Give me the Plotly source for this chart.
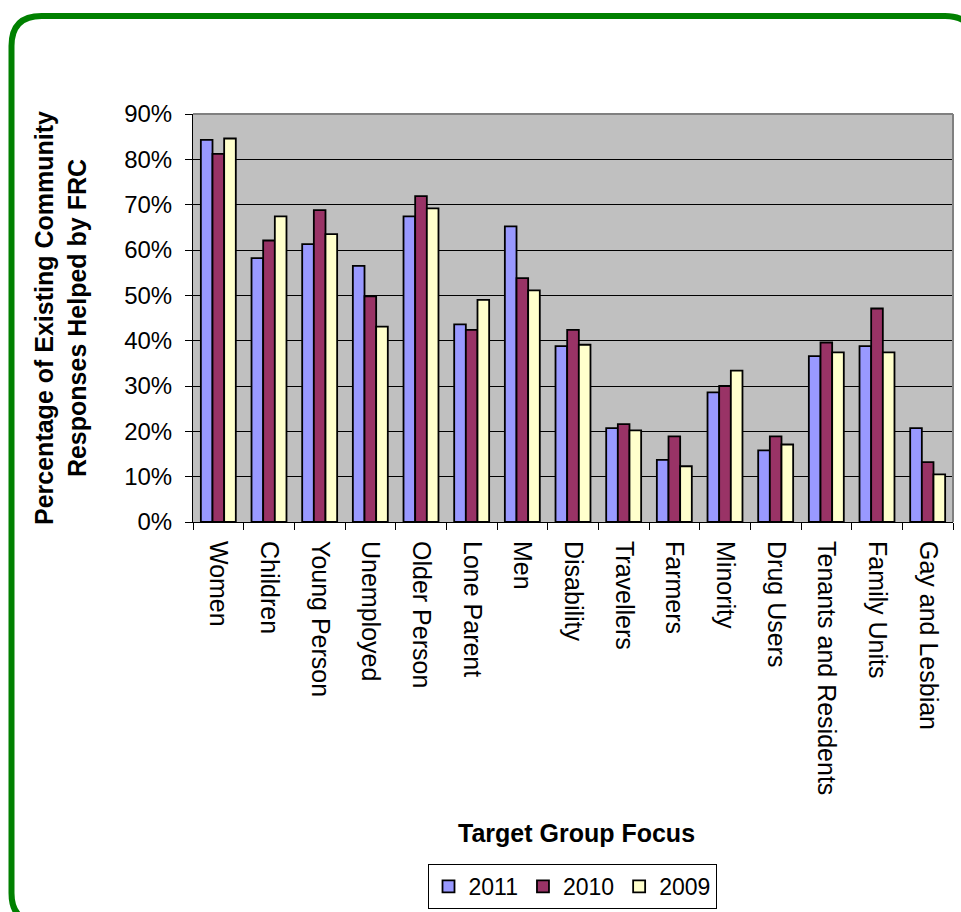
import plotly.graph_objects as go

categories = ["Women", "Children", "Young Person", "Unemployed", "Older Person",
              "Lone Parent", "Men", "Disability", "Travellers", "Farmers",
              "Minority", "Drug Users", "Tenants and Residents", "Family Units",
              "Gay and Lesbian"]
vals_2011 = [84.3, 58.2, 61.3, 56.5, 67.4, 43.6, 65.2, 38.8, 20.7, 13.7, 28.6, 15.8, 36.6, 38.8, 20.7]
vals_2010 = [81.2, 62.1, 68.8, 49.8, 71.9, 42.4, 53.8, 42.4, 21.6, 18.9, 30.0, 18.9, 39.6, 47.1, 13.2]
vals_2009 = [84.6, 67.4, 63.5, 43.1, 69.2, 49.0, 51.1, 39.1, 20.2, 12.3, 33.4, 17.1, 37.4, 37.4, 10.5]
series_names = ["2011", "2010", "2009"]
series_colors = ["#9999FF", "#993366", "#FFFFCC"]
y_ticks = [0, 10, 20, 30, 40, 50, 60, 70, 80, 90]
y_tick_labels = ["0%", "10%", "20%", "30%", "40%", "50%", "60%", "70%", "80%", "90%"]

W, H = 961, 912
L, R, T, B = 193, 8, 114, 390
PW = W - L - R
PH = H - T - B

def px_x(x):
    return (x - L) / PW

def px_y(y):
    return (H - B - y) / PH

FONT = "Liberation Sans, Arial, sans-serif"

fig = go.Figure()
for name, vals, col in zip(series_names, [vals_2011, vals_2010, vals_2009], series_colors):
    fig.add_trace(go.Bar(
        name=name, x=categories, y=vals,
        marker=dict(color=col, line=dict(color="black", width=1.8)),
    ))

# green rounded border
left, top, right, bottom, rad = 11.5, 16, 975, 923, 30
pts = dict(
    l=px_x(left), r=px_x(right), t=px_y(top), b=px_y(bottom),
    lr=px_x(left + rad), rr=px_x(right - rad), tr=px_y(top + rad), br=px_y(bottom - rad),
)
path = (f"M {pts['lr']},{pts['t']} L {pts['rr']},{pts['t']} "
        f"Q {pts['r']},{pts['t']} {pts['r']},{pts['tr']} "
        f"L {pts['r']},{pts['br']} Q {pts['r']},{pts['b']} {pts['rr']},{pts['b']} "
        f"L {pts['lr']},{pts['b']} Q {pts['l']},{pts['b']} {pts['l']},{pts['br']} "
        f"L {pts['l']},{pts['tr']} Q {pts['l']},{pts['t']} {pts['lr']},{pts['t']} Z")

shapes = [
    dict(type="path", xref="paper", yref="paper", path=path,
         line=dict(color="#008000", width=6), layer="above"),
    dict(type="line", xref="paper", yref="paper", x0=0, x1=1, y0=1, y1=1,
         line=dict(color="#808080", width=2), layer="above"),
    dict(type="line", xref="paper", yref="paper", x0=1, x1=1, y0=0, y1=1,
         line=dict(color="#808080", width=2), layer="above"),
]

fig.update_layout(
    width=W, height=H,
    margin=dict(l=L, r=R, t=T, b=B, autoexpand=False),
    paper_bgcolor="white", plot_bgcolor="#C0C0C0",
    font=dict(family=FONT, color="black"),
    barmode="group", bargap=0.31, bargroupgap=0,
    showlegend=True,
    legend=dict(orientation="h", x=px_x(572), xanchor="center",
                y=px_y(864), yanchor="top",
                bordercolor="black", borderwidth=1, bgcolor="white",
                font=dict(size=23, family=FONT), traceorder="normal"),
    shapes=shapes,
    annotations=[
        dict(text="<b>Percentage of Existing Community<br>Responses Helped by FRC</b>",
             xref="paper", yref="paper", x=px_x(60), y=0.5, xanchor="center", yanchor="middle",
             textangle=-90, showarrow=False, font=dict(size=25, family=FONT)),
        dict(text="<b>Target Group Focus</b>", xref="paper", yref="paper",
             x=px_x(576), y=px_y(833), xanchor="center", yanchor="middle",
             showarrow=False, font=dict(size=25, family=FONT)),
    ],
)
fig.update_xaxes(
    type="category", tickangle=90, tickson="boundaries",
    ticks="outside", ticklen=7, tickcolor="black",
    showline=True, linecolor="black", linewidth=1,
    tickfont=dict(size=25, family=FONT), showgrid=False,
    ticklabelstandoff=13, automargin=False,
)
fig.update_yaxes(
    range=[0, 90], tickmode="array", tickvals=y_ticks, ticktext=y_tick_labels,
    ticks="outside", ticklen=7, tickcolor="black",
    showline=True, linecolor="black", linewidth=1,
    showgrid=True, gridcolor="black", gridwidth=1,
    tickfont=dict(size=24, family=FONT), zeroline=False,
    ticklabelstandoff=8, automargin=False,
)

fig.write_html("out.html", config={"displayModeBar": False},
               post_script="document.body.style.margin='0';document.body.style.overflow='hidden';")
